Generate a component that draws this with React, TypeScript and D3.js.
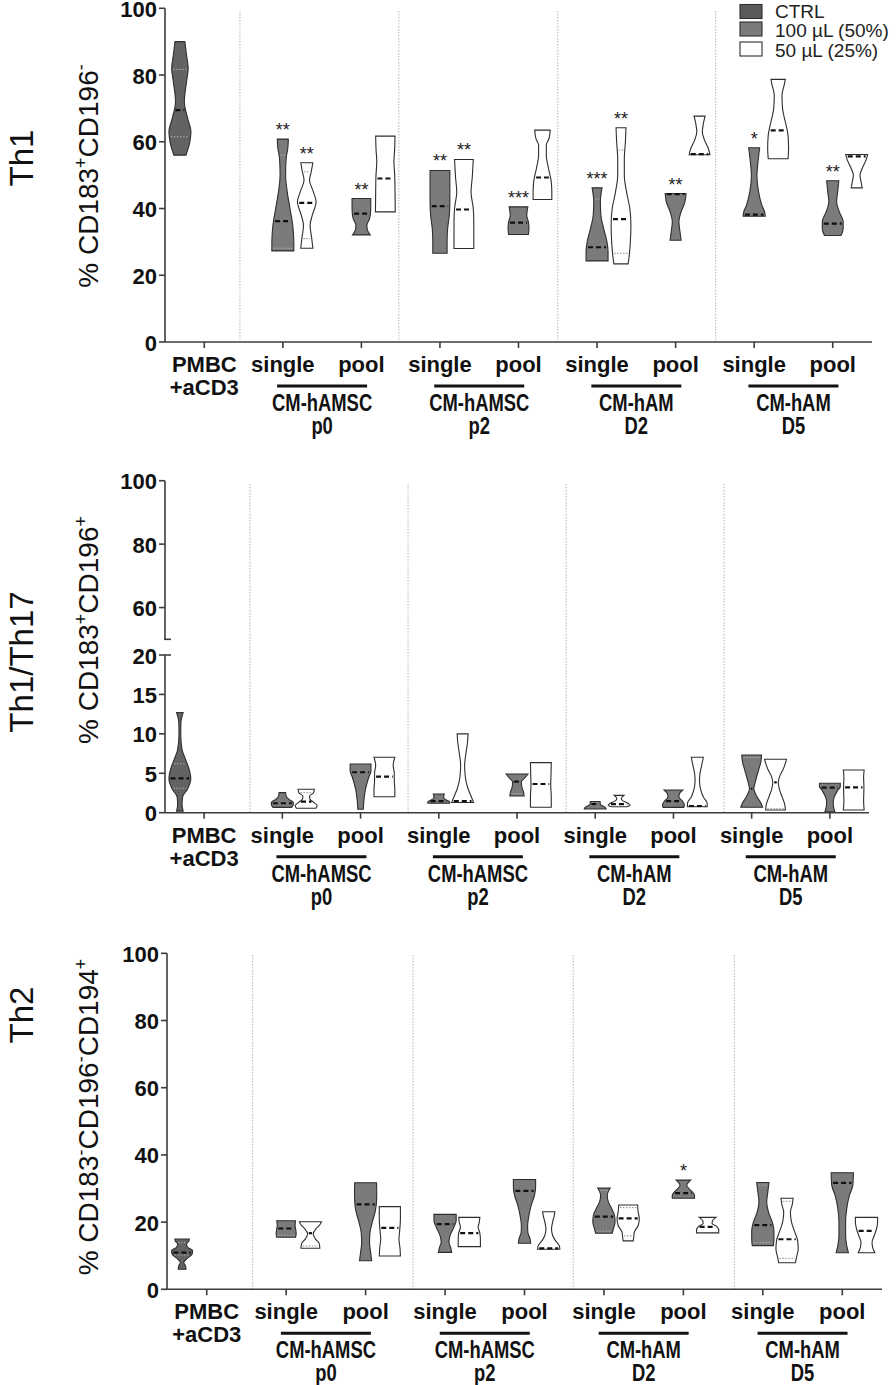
import React from "react";
import * as d3 from "d3";

// ---------- DATA ----------
const categories = ["PMBC", "single", "pool", "single", "pool", "single", "pool", "single", "pool"];
const pmbcSecondLine = "+aCD3";
const groupNames: string[][] = [
  ["CM-hAMSC", "p0"],
  ["CM-hAMSC", "p2"],
  ["CM-hAM", "D2"],
  ["CM-hAM", "D5"],
];
const seriesNames = ["CTRL", "100 \u00b5L (50%)", "50 \u00b5L (25%)"];

const th1Ticks = [0, 20, 40, 60, 80, 100];
const th17Ticks = [0, 5, 10, 15, 20, 60, 80, 100];
const th2Ticks = [0, 20, 40, 60, 80, 100];

type Violin = { cat: number; ser: number; med: number; q?: number[]; prof: [number, number][]; star?: string };

// prof: [value, relative half-width]
const th1Violins: Violin[] = [
  { cat: 0, ser: 0, med: 69.5, q: [61.5, 81.7], prof: [[56, 0.55], [60, 0.9], [63, 1.0], [67, 0.7], [72, 0.4], [78, 0.6], [82, 0.75], [86, 0.6], [90, 0.45]] },
  { cat: 1, ser: 1, med: 36.2, q: [28.1, 56], prof: [[27.3, 1.0], [30, 1.0], [35, 0.9], [40, 0.65], [45, 0.4], [50, 0.25], [55, 0.3], [58, 0.45], [60.8, 0.5]], star: "**" },
  { cat: 1, ser: 2, med: 41.7, q: [31, 51], prof: [[28.1, 0.55], [31, 0.45], [35, 0.3], [38, 0.5], [42, 0.85], [45, 0.6], [48.5, 0.25], [51, 0.4], [53.7, 0.55]], star: "**" },
  { cat: 2, ser: 1, med: 38.5, prof: [[32.1, 0.8], [33.5, 0.55], [35, 0.5], [37, 0.75], [40, 0.85], [43, 0.85]], star: "**" },
  { cat: 2, ser: 2, med: 49, prof: [[39, 0.9], [45, 0.88], [50, 0.85], [54, 0.78], [58, 0.85], [61.7, 0.88]] },
  { cat: 3, ser: 1, med: 40.7, prof: [[26.6, 0.65], [30, 0.65], [34, 0.7], [38, 0.85], [42, 0.9], [48, 0.9], [51.4, 0.9]], star: "**" },
  { cat: 3, ser: 2, med: 39.7, prof: [[28, 0.9], [32, 0.9], [36, 0.9], [40, 0.85], [45, 0.65], [49, 0.75], [54.7, 0.85]], star: "**" },
  { cat: 4, ser: 1, med: 35.8, prof: [[32.2, 0.9], [34, 0.95], [36, 0.9], [38, 0.75], [40.5, 0.85]], star: "***" },
  { cat: 4, ser: 2, med: 49.3, prof: [[42.7, 0.85], [45, 0.85], [48, 0.8], [52, 0.55], [56, 0.35], [59, 0.35], [61, 0.6], [63.5, 0.7]] },
  { cat: 5, ser: 1, med: 28.4, q: [42.8], prof: [[24.3, 1.0], [27, 1.0], [30, 0.9], [34, 0.6], [38, 0.35], [42, 0.3], [46.2, 0.45]], star: "***" },
  { cat: 5, ser: 2, med: 36.8, q: [26.6, 57.5], prof: [[23.4, 0.65], [26, 0.75], [30, 0.85], [35, 0.9], [40, 0.8], [45, 0.5], [50, 0.3], [55, 0.3], [60, 0.4], [64.2, 0.45]], star: "**" },
  { cat: 6, ser: 1, med: 44.3, prof: [[30.5, 0.5], [33, 0.4], [36, 0.3], [39, 0.5], [42, 0.85], [44.5, 0.95]], star: "**" },
  { cat: 6, ser: 2, med: 56.3, prof: [[56.1, 0.95], [58, 0.8], [60.5, 0.45], [63, 0.25], [65.5, 0.35], [67.7, 0.5]] },
  { cat: 7, ser: 1, med: 38.2, prof: [[37.7, 1.0], [39, 0.95], [41, 0.7], [45, 0.4], [50, 0.25], [54, 0.35], [58.2, 0.5]], star: "*" },
  { cat: 7, ser: 2, med: 63.4, prof: [[54.9, 0.9], [58, 0.95], [62, 0.9], [66, 0.65], [70, 0.4], [74, 0.35], [77, 0.55], [78.7, 0.65]] },
  { cat: 8, ser: 1, med: 35.5, prof: [[31.9, 0.75], [34, 0.95], [36, 0.95], [39, 0.6], [42, 0.35], [45, 0.45], [48.3, 0.55]], star: "**" },
  { cat: 8, ser: 2, med: 55.6, prof: [[46.2, 0.5], [48, 0.4], [50, 0.3], [52, 0.5], [54.5, 0.85], [56.2, 1.0]] },
];

const th17Violins: Violin[] = [
  { cat: 0, ser: 0, med: 4.36, q: [3.1, 6.2], prof: [[0.2, 0.3], [1.0, 0.2], [2, 0.25], [3, 0.7], [4.3, 1.0], [5.5, 0.85], [7, 0.45], [8, 0.2], [10, 0.08], [11.5, 0.1], [12.7, 0.3]] },
  { cat: 1, ser: 1, med: 1.2, prof: [[0.68, 0.85], [1.0, 1.0], [1.3, 1.0], [1.7, 0.6], [2.1, 0.35], [2.54, 0.3]] },
  { cat: 1, ser: 2, med: 1.4, q: [2.54], prof: [[0.56, 0.9], [0.9, 1.0], [1.3, 0.7], [1.7, 0.35], [2.1, 0.3], [2.5, 0.65], [2.97, 0.75]] },
  { cat: 2, ser: 1, med: 5.13, prof: [[0.43, 0.25], [1.5, 0.3], [3, 0.45], [4.5, 0.75], [5.3, 0.95], [6.18, 0.95]] },
  { cat: 2, ser: 2, med: 4.57, prof: [[2.03, 0.95], [3, 0.95], [4, 0.9], [5, 0.9], [6, 0.8], [7.03, 0.95]] },
  { cat: 3, ser: 1, med: 1.48, prof: [[1.2, 1.0], [1.4, 1.0], [1.6, 0.7], [1.9, 0.45], [2.1, 0.45], [2.37, 0.5]] },
  { cat: 3, ser: 2, med: 1.48, prof: [[1.3, 1.0], [2, 0.8], [3, 0.5], [4.5, 0.25], [6, 0.18], [7.5, 0.3], [9, 0.45], [10, 0.5]] },
  { cat: 4, ser: 1, med: 3.94, q: [2.4], prof: [[2.12, 0.65], [2.6, 0.6], [3.2, 0.45], [3.9, 0.4], [4.4, 0.7], [4.91, 1.0]] },
  { cat: 4, ser: 2, med: 3.64, prof: [[0.69, 0.95], [2, 0.95], [3.6, 0.9], [5, 0.93], [6.35, 0.95]] },
  { cat: 5, ser: 1, med: 1.1, q: [1.3], prof: [[0.47, 1.0], [0.7, 0.9], [0.95, 0.55], [1.2, 0.45], [1.4, 0.45]] },
  { cat: 5, ser: 2, med: 1.1, prof: [[0.76, 0.7], [0.95, 1.0], [1.2, 0.8], [1.5, 0.35], [1.8, 0.2], [2.2, 0.45]] },
  { cat: 6, ser: 1, med: 1.48, prof: [[0.68, 0.95], [1.0, 1.0], [1.5, 0.8], [2.0, 0.5], [2.4, 0.55], [2.88, 0.85]] },
  { cat: 6, ser: 2, med: 0.85, prof: [[0.76, 0.9], [1.2, 0.9], [2, 0.55], [3, 0.3], [4, 0.2], [5, 0.25], [6, 0.4], [7.03, 0.55]] },
  { cat: 7, ser: 1, med: 3.05, q: [7.0], prof: [[0.69, 1.0], [1.2, 0.85], [2, 0.5], [3, 0.2], [4, 0.35], [5.5, 0.65], [6.5, 0.85], [7.32, 0.9]] },
  { cat: 7, ser: 2, med: 3.85, q: [0.5], prof: [[0.34, 0.9], [1, 0.85], [2, 0.6], [3, 0.35], [3.85, 0.25], [4.7, 0.4], [5.5, 0.7], [6.77, 1.0]] },
  { cat: 8, ser: 1, med: 3.18, prof: [[0.13, 0.45], [0.6, 0.35], [1.3, 0.3], [2.0, 0.4], [2.8, 0.7], [3.3, 0.95], [3.73, 0.95]] },
  { cat: 8, ser: 2, med: 3.22, prof: [[0.34, 0.95], [1.5, 0.9], [3.2, 0.93], [4.5, 0.9], [5.42, 0.95]] },
];

const th2Violins: Violin[] = [
  { cat: 0, ser: 0, med: 10.9, q: [10.2, 13.9], prof: [[5.95, 0.35], [7, 0.3], [8, 0.15], [9, 0.4], [10.5, 0.9], [11.5, 0.95], [12.5, 0.5], [13.5, 0.4], [14.3, 0.6], [14.97, 0.65]] },
  { cat: 1, ser: 1, med: 18.1, q: [16.1], prof: [[15.5, 0.85], [16.5, 0.9], [18, 0.85], [19, 0.8], [20.4, 0.85]] },
  { cat: 1, ser: 2, med: 16.7, q: [12.9], prof: [[12.2, 0.85], [13.5, 0.8], [15, 0.45], [16.5, 0.25], [18, 0.5], [19.2, 0.85], [20.1, 1.0]] },
  { cat: 2, ser: 1, med: 25.3, prof: [[8.5, 0.55], [11, 0.45], [14, 0.35], [17, 0.4], [20, 0.6], [23, 0.85], [26, 0.98], [29, 1.0], [31.7, 0.98]] },
  { cat: 2, ser: 2, med: 18.3, prof: [[9.9, 0.95], [12, 0.92], [15, 0.82], [18, 0.9], [21, 0.95], [24.6, 0.95]] },
  { cat: 3, ser: 1, med: 19.4, prof: [[11, 0.6], [12.5, 0.5], [14, 0.35], [16, 0.45], [18.5, 0.8], [20.5, 1.0], [22.3, 1.0]] },
  { cat: 3, ser: 2, med: 16.7, prof: [[12.7, 1.0], [14.5, 1.0], [16.7, 0.95], [18.5, 0.8], [20, 0.9], [21.4, 0.95]] },
  { cat: 4, ser: 1, med: 29.3, prof: [[13.7, 0.55], [15, 0.5], [17, 0.3], [19, 0.28], [22, 0.4], [25, 0.6], [28, 0.9], [30.5, 1.0], [32.7, 1.0]] },
  { cat: 4, ser: 2, med: 12.2, prof: [[11.9, 1.0], [13, 0.95], [14.5, 0.6], [16, 0.35], [18, 0.25], [20, 0.35], [22, 0.5], [23.1, 0.55]] },
  { cat: 5, ser: 1, med: 21.6, q: [17.3, 29.4], prof: [[16.7, 0.75], [18, 0.85], [20, 1.0], [22, 0.95], [24, 0.7], [26, 0.4], [28, 0.3], [30.1, 0.55]] },
  { cat: 5, ser: 2, med: 21.1, q: [15.9, 24.3], prof: [[14.4, 0.45], [15.5, 0.5], [17, 0.55], [19, 0.9], [21, 1.0], [23, 0.9], [25.1, 0.85]] },
  { cat: 6, ser: 1, med: 28.6, prof: [[27.1, 1.0], [28, 1.0], [29, 0.8], [30, 0.5], [31, 0.3], [32, 0.5], [32.5, 0.65]], star: "*" },
  { cat: 6, ser: 2, med: 18.6, prof: [[16.8, 1.0], [17.5, 1.0], [18.6, 0.85], [19.6, 0.4], [20.5, 0.45], [21.4, 0.75]] },
  { cat: 7, ser: 1, med: 19.1, q: [13.9, 31], prof: [[13, 0.95], [15, 1.0], [17.5, 1.0], [20, 0.85], [23, 0.5], [26, 0.35], [29, 0.45], [31.8, 0.55]] },
  { cat: 7, ser: 2, med: 14.9, q: [9.2, 26.2], prof: [[7.9, 0.75], [9.5, 0.85], [12, 1.0], [14.5, 0.95], [17, 0.7], [20, 0.4], [23, 0.3], [25, 0.45], [27.1, 0.55]] },
  { cat: 8, ser: 1, med: 31.7, prof: [[10.9, 0.55], [13, 0.4], [16, 0.3], [20, 0.3], [24, 0.4], [28, 0.65], [31, 0.95], [34.7, 1.0]] },
  { cat: 8, ser: 2, med: 17.4, prof: [[10.9, 0.75], [12.5, 0.55], [14, 0.5], [16, 0.7], [18, 0.9], [20, 1.0], [21.4, 1.0]] },
];

// y-axis titles: [text, isSuperscript]
const th1Title: [string, boolean][] = [["% CD183", false], ["+", true], ["CD196", false], ["-", true]];
const th17Title: [string, boolean][] = [["% CD183", false], ["+", true], ["CD196", false], ["+", true]];
const th2Title: [string, boolean][] = [["% CD183", false], ["-", true], ["CD196", false], ["-", true], ["CD194", false], ["+", true]];

// ---------- STYLE / LAYOUT ----------
const FONT = "'Liberation Sans', Arial, Helvetica, sans-serif";
const seriesFill = ["#636363", "#7b7b7b", "#ffffff"];
const seriesOffset = [-0.31, 0, 0.305];
const AXIS = "#3d3d3d";

type PanelCfg = {
  violins: Violin[];
  yDomain: number[];
  yRange: number[];
  ticks: number[];
  xRange: [number, number];
  seps: number[];
  sepTop: number;
  broken?: boolean;
  cell: string;
  cellY: number;
  title: [string, boolean][];
  titleY: number;
  legend?: boolean;
};

const panels: PanelCfg[] = [
  { violins: th1Violins, yDomain: [0, 100], yRange: [342, 8.3], ticks: th1Ticks, xRange: [165, 872], seps: [0.954, 2.977, 5.0, 7.01], sepTop: 11, cell: "Th1", cellY: 158, title: th1Title, titleY: 176, legend: true },
  { violins: th17Violins, yDomain: [0, 20, 50, 100], yRange: [812.7, 655, 639.3, 480.7], ticks: th17Ticks, xRange: [165, 869], seps: [1.087, 3.107, 5.128, 7.148], sepTop: 484, broken: true, cell: "Th1/Th17", cellY: 662, title: th17Title, titleY: 630 },
  { violins: th2Violins, yDomain: [0, 100], yRange: [1289.3, 953.3], ticks: th2Ticks, xRange: [167, 882], seps: [1.079, 3.098, 5.113, 7.141], sepTop: 955, cell: "Th2", cellY: 1015, title: th2Title, titleY: 1117 },
];

function widthAt(prof: [number, number][], v: number): number {
  if (v <= prof[0][0]) return prof[0][1];
  for (let i = 1; i < prof.length; i++) {
    if (v <= prof[i][0]) {
      const [a, wa] = prof[i - 1];
      const [b, wb] = prof[i];
      return wa + ((v - a) / (b - a)) * (wb - wa);
    }
  }
  return prof[prof.length - 1][1];
}

function Panel({ cfg }: { cfg: PanelCfg }) {
  const x = d3.scaleBand<number>().domain(d3.range(categories.length)).range(cfg.xRange).paddingInner(0).paddingOuter(0);
  const bw = x.bandwidth();
  const y = d3.scaleLinear().domain(cfg.yDomain).range(cfg.yRange);
  const axisX = cfg.xRange[0];
  const axisY = y(0);
  const hw = bw * 0.14;
  const cxOf = (cat: number, ser: number) => (x(cat) as number) + bw / 2 + seriesOffset[ser] * bw;
  const tickX = (i: number) => (x(i) as number) + bw / 2;

  const yAxisSegments: [number, number][] = cfg.broken
    ? [[y(0), y(20)], [y(50), y(100)]]
    : [[y(0), y(cfg.yDomain[cfg.yDomain.length - 1])]];

  return (
    <g>
      {/* separators */}
      {cfg.seps.map((s, i) => (
        <line key={"sep" + i} x1={axisX + s * bw} x2={axisX + s * bw} y1={cfg.sepTop} y2={axisY} stroke="#b5b5b5" strokeWidth={1} strokeDasharray="1.5,1.5" />
      ))}
      {/* violins */}
      {cfg.violins.map((v, i) => {
        const c = cxOf(v.cat, v.ser);
        const area = d3
          .area<[number, number]>()
          .y((d) => y(d[0]))
          .x0((d) => c - d[1] * hw)
          .x1((d) => c + d[1] * hw)
          .curve(d3.curveMonotoneY);
        const mw = widthAt(v.prof, v.med) * hw;
        const top = v.prof[v.prof.length - 1][0];
        return (
          <g key={"v" + i}>
            <path d={area(v.prof) || ""} fill={seriesFill[v.ser]} stroke="#2e2e2e" strokeWidth={1.1} />
            {(v.q || []).map((q, j) => {
              const qw = widthAt(v.prof, q) * hw;
              return (
                <line key={"q" + j} x1={c - qw + 1.5} x2={c + qw - 1.5} y1={y(q)} y2={y(q)} stroke={v.ser === 2 ? "#8a8a8a" : "#b0b0b0"} strokeWidth={1} strokeDasharray="1.5,1.5" />
              );
            })}
            <line x1={c - mw + 1.5} x2={c + mw - 1.5} y1={y(v.med)} y2={y(v.med)} stroke="#111" strokeWidth={2.2} strokeDasharray="5,3" />
            {v.star && (
              <text x={c} y={y(top) - 3} textAnchor="middle" fontFamily={FONT} fontSize={18} fill="#222">
                {v.star}
              </text>
            )}
          </g>
        );
      })}
      {/* y axis */}
      {yAxisSegments.map((s, i) => (
        <line key={"ya" + i} x1={axisX} x2={axisX} y1={s[0]} y2={s[1]} stroke={AXIS} strokeWidth={1.6} />
      ))}
      {cfg.broken && (
        <g>
          <line x1={axisX - 1} x2={axisX + 6} y1={y(50)} y2={y(50)} stroke={AXIS} strokeWidth={1.6} />
          <line x1={axisX} x2={axisX + 6} y1={y(20)} y2={y(20)} stroke={AXIS} strokeWidth={1.6} />
        </g>
      )}
      {cfg.ticks.map((t) => (
        <g key={"yt" + t}>
          <line x1={axisX - 6} x2={axisX} y1={y(t)} y2={y(t)} stroke={AXIS} strokeWidth={1.6} />
          <text x={axisX - 8} y={y(t) + 8.5} textAnchor="end" fontFamily={FONT} fontWeight="bold" fontSize={22} fill="#111">
            {t}
          </text>
        </g>
      ))}
      {/* x axis */}
      <line x1={axisX} x2={cfg.xRange[1]} y1={axisY} y2={axisY} stroke={AXIS} strokeWidth={1.6} />
      {categories.map((c, i) => (
        <g key={"xt" + i}>
          <line x1={tickX(i)} x2={tickX(i)} y1={axisY} y2={axisY + 6} stroke={AXIS} strokeWidth={1.6} />
          <text x={tickX(i)} y={axisY + 30} textAnchor="middle" fontFamily={FONT} fontWeight="bold" fontSize={22} fill="#111">
            {c}
          </text>
          {i === 0 && (
            <text x={tickX(i)} y={axisY + 53} textAnchor="middle" fontFamily={FONT} fontWeight="bold" fontSize={22} fill="#111">
              {pmbcSecondLine}
            </text>
          )}
        </g>
      ))}
      {groupNames.map((g, gi) => {
        const gc = (tickX(1 + 2 * gi) + tickX(2 + 2 * gi)) / 2;
        return (
          <g key={"grp" + gi}>
            <line x1={gc - 45} x2={gc + 45} y1={axisY + 44} y2={axisY + 44} stroke="#111" strokeWidth={3} />
            <text transform={`translate(${gc},${axisY + 69}) scale(0.8,1)`} textAnchor="middle" fontFamily={FONT} fontWeight="bold" fontSize={23} fill="#111">
              {g[0]}
            </text>
            <text transform={`translate(${gc},${axisY + 92}) scale(0.8,1)`} textAnchor="middle" fontFamily={FONT} fontWeight="bold" fontSize={23} fill="#111">
              {g[1]}
            </text>
          </g>
        );
      })}
      {/* titles */}
      <text transform={`translate(33,${cfg.cellY}) rotate(-90)`} textAnchor="middle" fontFamily={FONT} fontSize={33} fill="#111">
        {cfg.cell}
      </text>
      <text transform={`translate(98,${cfg.titleY}) rotate(-90)`} textAnchor="middle" fontFamily={FONT} fontSize={28} fill="#111">
        {cfg.title.map((p, i) => {
          const prevSup = i > 0 && cfg.title[i - 1][1];
          const dy = p[1] ? -11 : prevSup ? 11 : 0;
          return (
            <tspan key={i} dy={dy} fontSize={p[1] ? 18 : 28}>
              {p[0]}
            </tspan>
          );
        })}
      </text>
      {/* legend */}
      {cfg.legend &&
        seriesNames.map((s, i) => (
          <g key={"lg" + i}>
            <rect x={740} y={[4.5, 22, 42][i]} width={22} height={14} fill={i === 0 ? "#5a5a5a" : seriesFill[i]} stroke="#2e2e2e" strokeWidth={1.1} />
            <text x={775} y={[17.5, 37, 57][i]} fontFamily={FONT} fontSize={19} fill="#222">
              {s}
            </text>
          </g>
        ))}
    </g>
  );
}

export default function App() {
  return (
    <svg width={896} height={1385} viewBox="0 0 896 1385" style={{ position: "absolute", left: 0, top: 0, background: "#fff" }}>
      <rect x={0} y={0} width={896} height={1385} fill="#fff" />
      {panels.map((p, i) => (
        <Panel key={i} cfg={p} />
      ))}
    </svg>
  );
}
